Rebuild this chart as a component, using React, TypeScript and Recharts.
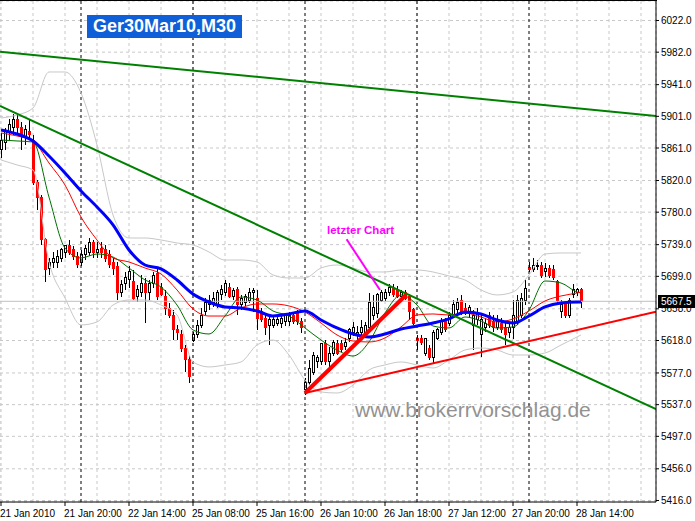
import React from "react";
import {
  ComposedChart,
  Bar,
  Line,
  XAxis,
  YAxis,
  CartesianGrid,
  ReferenceLine,
} from "recharts";

// Ger30Mar10, M30 – Kerzen vom 21 Jan 12:00 bis 28 Jan 14:30 (Index = Bar)
const open = [
  5858.5, 5868.5, 5880, 5886.5, 5896.5, 5886.5, 5875, 5881.5, 5871, 5817,
  5799, 5745, 5709.5, 5717, 5717, 5722, 5729.5, 5738.5, 5732.5, 5724.5,
  5717, 5726, 5729.5, 5742, 5729.5, 5734.5, 5732.5, 5726, 5717, 5712,
  5678, 5690.5, 5694.5, 5692, 5673, 5678, 5690.5, 5678, 5690.5, 5703,
  5685.5, 5673, 5659, 5650, 5631.5, 5625, 5608.5, 5593.5, 5618.5, 5625,
  5637.5, 5654, 5663, 5666.5, 5663, 5675.5, 5678, 5685.5, 5673, 5682,
  5663, 5666.5, 5669, 5678, 5671.5, 5654, 5646, 5637.5, 5637.5, 5640,
  5640, 5641.5, 5641.5, 5650, 5652.5, 5641.5, 5555.5, 5565.5, 5578, 5591,
  5591, 5614.5, 5591, 5602, 5614.5, 5614.5, 5610, 5621, 5627.5, 5625,
  5627.5, 5628.5, 5635, 5650, 5652.5, 5669, 5671.5, 5678, 5684, 5683,
  5674, 5678, 5673, 5656.5, 5621, 5621, 5602, 5608.5, 5597, 5620,
  5628.5, 5641.5, 5640, 5650, 5656.5, 5669, 5659, 5652.5, 5637.5, 5644,
  5625, 5634, 5649, 5641.5, 5635, 5640, 5635, 5627.5, 5634, 5641.5,
  5650, 5669, 5710.5, 5707, 5712, 5713, 5704.5, 5709.5, 5707, 5692,
  5654, 5663, 5650, 5675.5, 5679, 5682,
];
const high = [
  5880, 5886.5, 5897.5, 5904, 5902.5, 5894, 5890.5, 5897.5, 5877.5, 5821,
  5801.5, 5747.5, 5722, 5729.5, 5732.5, 5735, 5738.5, 5745, 5737, 5729.5,
  5732.5, 5738.5, 5747.5, 5745, 5742, 5742, 5738.5, 5732.5, 5722, 5717,
  5694.5, 5704.5, 5712, 5707, 5688, 5700.5, 5697, 5694.5, 5704.5, 5709.5,
  5690.5, 5682, 5665.5, 5656.5, 5637.5, 5631.5, 5612, 5599.5, 5628.5, 5644,
  5659, 5671.5, 5675.5, 5679, 5682, 5688, 5694.5, 5690.5, 5684, 5685.5,
  5675.5, 5676.5, 5684, 5684, 5682, 5659, 5650, 5649, 5650, 5649,
  5651.5, 5651.5, 5654, 5654, 5656.5, 5646, 5570.5, 5593.5, 5603.5, 5599.5,
  5615, 5618.5, 5610, 5618.5, 5618.5, 5618.5, 5621, 5634, 5641, 5636,
  5644, 5641, 5678, 5675.5, 5678, 5682, 5683, 5689, 5689, 5687,
  5682, 5682, 5676.5, 5659, 5625, 5625, 5621, 5612, 5631.5, 5634,
  5646, 5646, 5654, 5669, 5671.5, 5675.5, 5665.5, 5663, 5656.5, 5659,
  5650, 5646, 5654, 5650, 5650, 5646, 5641.5, 5641.5, 5669, 5675.5,
  5678, 5694.5, 5717, 5722, 5719.5, 5717, 5715.5, 5713, 5713, 5694.5,
  5669, 5666.5, 5671.5, 5689, 5684, 5684,
];
const low = [
  5848.5, 5858.5, 5871, 5877.5, 5880, 5858.5, 5865, 5871, 5814.5, 5783,
  5739, 5692, 5700.5, 5709.5, 5709.5, 5717, 5722, 5726, 5719.5, 5709.5,
  5712, 5719.5, 5724.5, 5722, 5722, 5722, 5717, 5709.5, 5700.5, 5669,
  5673, 5682, 5684, 5669, 5666.5, 5673, 5640, 5669, 5684, 5669,
  5674, 5650, 5646, 5618.5, 5618.5, 5603.5, 5578, 5564, 5616, 5621,
  5634, 5650, 5656.5, 5660, 5659, 5669, 5674, 5671.5, 5669, 5650,
  5656.5, 5661.5, 5665.5, 5654, 5631.5, 5641, 5625, 5612, 5634, 5636,
  5634, 5636, 5636, 5639, 5637.5, 5627.5, 5549, 5562, 5574.5, 5583,
  5587, 5587, 5578, 5598, 5600, 5603.5, 5606, 5616, 5623.5, 5618.5,
  5623.5, 5623.5, 5631.5, 5644, 5646, 5666.5, 5668, 5674, 5673, 5671.5,
  5670, 5669, 5644, 5637.5, 5606, 5612, 5598, 5593.5, 5589.5, 5618.5,
  5625, 5628.5, 5636, 5646, 5652.5, 5650, 5650, 5646, 5606, 5637.5,
  5597, 5628.5, 5634, 5628.5, 5631.5, 5627.5, 5612, 5621, 5620, 5637.5,
  5646, 5663, 5704.5, 5704.5, 5707, 5697, 5698, 5697, 5694.5, 5665,
  5646, 5646, 5646, 5671.5, 5674, 5659,
];
const close = [
  5871, 5881.5, 5891, 5896.5, 5886.5, 5875, 5884, 5877.5, 5818, 5798,
  5745, 5707, 5716, 5722, 5724.5, 5732.5, 5738.5, 5729.5, 5724.5, 5713.5,
  5726, 5734.5, 5742, 5729.5, 5732.5, 5728.5, 5722, 5714.5, 5709.5, 5679,
  5689, 5698, 5704.5, 5671.5, 5682, 5690.5, 5678, 5690.5, 5700.5, 5673,
  5675.5, 5659, 5650, 5631.5, 5627.5, 5608.5, 5593.5, 5572, 5625, 5637.5,
  5650, 5665.5, 5669, 5671.5, 5678, 5682, 5690.5, 5673, 5680.5, 5663,
  5671.5, 5673, 5678, 5680.5, 5646, 5644, 5634, 5644, 5644, 5645,
  5646, 5649, 5650, 5641.5, 5641.5, 5634, 5565.5, 5583, 5599.5, 5596,
  5614.5, 5591, 5602, 5616, 5602, 5606, 5616, 5631.5, 5635, 5628.5,
  5635, 5637.5, 5665.5, 5660, 5675.5, 5678, 5678, 5685.5, 5675.5, 5674,
  5679, 5671.5, 5654, 5640, 5618.5, 5616, 5620, 5597, 5627.5, 5631.5,
  5641.5, 5631.5, 5649, 5663, 5666.5, 5652.5, 5652.5, 5660, 5649, 5652.5,
  5644, 5640, 5637.5, 5635, 5641.5, 5631.5, 5625, 5635, 5649, 5669,
  5671.5, 5684, 5708, 5713, 5713, 5700.5, 5709.5, 5700.5, 5698, 5669,
  5663, 5650, 5669, 5682, 5682, 5667.5,
];

// Zeitachse
const timeLabels = [
  "21 Jan 2010",
  "21 Jan 20:00",
  "22 Jan 14:00",
  "25 Jan 08:00",
  "25 Jan 16:00",
  "26 Jan 10:00",
  "26 Jan 18:00",
  "27 Jan 12:00",
  "27 Jan 20:00",
  "28 Jan 14:00",
];
const timeLabelBars = [0, 16, 32, 48, 64, 80, 96, 112, 128, 144];
const gridBars = [
  0, 8, 16, 24, 32, 40, 48, 56, 64, 72, 80, 88, 96, 104, 112, 120, 128, 136,
  144, 152, 160,
];
const daySeparators = [20, 48, 76, 104, 132];

// Preisachse
const priceTicks = [
  6022, 5982, 5941, 5901, 5861, 5820, 5780, 5739, 5699, 5658, 5618, 5577,
  5537, 5497, 5456, 5416,
];
const bidPrice = 5667.5;

const indicatorBars = [
  0, 4, 8, 12, 16, 20, 24, 28, 32, 36, 40, 44, 48, 52, 56, 60, 64, 68, 72, 76,
  80, 84, 88, 92, 96, 100, 104, 108, 112, 116, 120, 124, 128, 132, 136, 140,
  144, 145,
];
const maBlue = [
  5883.8, 5878.7, 5869.9, 5850.9, 5829.5, 5806.8, 5786.6, 5764, 5732.3,
  5713.3, 5708.3, 5694.4, 5676.7, 5666.6, 5660.3, 5659, 5655.3, 5648.9, 5651.5,
  5655.3, 5643.9, 5633.8, 5626.2, 5622.4, 5626.2, 5632.5, 5636.3, 5640.1,
  5645.2, 5654, 5651.5, 5643.9, 5640.1, 5648.9, 5660.3, 5665.4, 5666.6, 5666.6,
];
const maRed = [
  5880, 5876.2, 5869.9, 5842.1, 5814.3, 5773.9, 5744.9, 5722.2, 5717.1,
  5709.5, 5702, 5681.8, 5657.8, 5648.9, 5648.9, 5659, 5664.1, 5664.1, 5661.6,
  5654, 5640.1, 5625, 5617.4, 5616.1, 5621.2, 5635.1, 5650.2, 5651.5, 5650.2,
  5652.7, 5647.7, 5641.4, 5645.2, 5655.3, 5667.9, 5674.2, 5678, 5679.2,
];
const maGreen = [
  5871.1, 5869.9, 5868.6, 5799, 5734.8, 5722.2, 5727.2, 5723.4, 5709.5,
  5694.4, 5685.6, 5662.8, 5631.3, 5626.2, 5648.9, 5672.9, 5669.1, 5655.2,
  5648.9, 5633.8, 5618.6, 5606, 5598.4, 5616.1, 5652.7, 5675.5, 5662.8,
  5636.3, 5633.8, 5647.7, 5642.6, 5633.8, 5635.1, 5656.5, 5693.1, 5690.6,
  5679.2, 5678,
];
const bbUpper = [
  5898.9, 5902.7, 5911.5, 5957, 5957, 5930.5, 5864.8, 5776.5, 5747.4, 5747.4,
  5744.9, 5741.1, 5738.6, 5729.7, 5719.6, 5719.6, 5717.1, 5700.7, 5696.9,
  5696.9, 5709.5, 5713.3, 5709.5, 5704.5, 5704.5, 5707, 5707, 5704.5, 5699.4,
  5694.4, 5681.8, 5675.5, 5679.2, 5700.7, 5727.2, 5728.5, 5728.5, 5728.5,
];
const bbLower = [
  5845.9, 5839.6, 5833.3, 5717.1, 5671.7, 5637.6, 5641.4, 5662.8, 5669.1,
  5669.1, 5662.8, 5650.2, 5590.9, 5584.6, 5587.1, 5590.9, 5612.3, 5618.6,
  5599.7, 5568.1, 5553, 5551.7, 5561.8, 5580.8, 5587.1, 5590.9, 5587.1, 5583.3,
  5593.4, 5606, 5608.5, 5606, 5599.7, 5599.7, 5602.2, 5612.3, 5622.4, 5625,
];

// Trendlinien (Bar, Preis)
const trendGreenTop = [
  { x: -0.25, y: 5982.6 },
  { x: 163.75, y: 5901.4 },
];
const trendGreenMid = [
  { x: -0.25, y: 5914.1 },
  { x: 163.75, y: 5531.5 },
];
const trendRedLong = [
  { x: 76, y: 5551.7 },
  { x: 163.75, y: 5654.4 },
];
const trendRedShort = [
  { x: 76, y: 5551.7 },
  { x: 101.25, y: 5675.4 },
];
const pointerLine = [
  { x: 86.4, y: 5745.8 },
  { x: 94.75, y: 5681.8 },
];

const candles = open.map((o, i) => ({
  x: i,
  open: o,
  high: high[i],
  low: low[i],
  close: close[i],
}));

const indicators = indicatorBars.map((b, i) => ({
  x: b,
  blue: maBlue[i],
  red: maRed[i],
  green: maGreen[i],
  up: bbUpper[i],
  lo: bbLower[i],
}));

const FONT = "'Liberation Sans', Arial, sans-serif";

const Candle = (props: any) => {
  const { x, y, width, height, payload } = props;
  if (!payload || x == null) return null;
  const { open: o, close: c, high: h, low: l } = payload;
  const top = Math.min(y, y + height);
  const span = Math.abs(height);
  const range = h - l || 1;
  const yOf = (v: number) => top + ((h - v) / range) * span;
  const cx = Math.round(x + width / 2);
  const yo = yOf(o);
  const yc = yOf(c);
  const bTop = Math.min(yo, yc);
  const bH = Math.max(1, Math.abs(yo - yc));
  const up = c >= o;
  return (
    <g shapeRendering="crispEdges">
      <line x1={cx + 0.5} x2={cx + 0.5} y1={top} y2={top + span} stroke="#000" />
      {up ? (
        <rect x={cx - 0.5} y={bTop} width={2} height={bH} fill="#fff" stroke="#000" />
      ) : (
        <rect x={cx - 1} y={bTop - 0.5} width={3} height={bH + 1} fill="#ff0000" />
      )}
    </g>
  );
};

const TimeTick = (props: any) => {
  const { x, y, payload } = props;
  const i = timeLabelBars.indexOf(payload.value);
  if (i < 0) return null;
  return (
    <g>
      <line x1={x} x2={x} y1={y} y2={y + 4} stroke="#000" />
      <text x={x - 1} y={y + 14.5} fontSize={10} fontFamily={FONT} fill="#000">
        {timeLabels[i]}
      </text>
    </g>
  );
};

export default function App() {
  return (
    <div
      style={{
        position: "absolute",
        left: 0,
        top: 0,
        width: 695,
        height: 521,
        background: "#fff",
        overflow: "hidden",
      }}
    >
      <ComposedChart
        width={695}
        height={521}
        data={candles}
        margin={{ top: 1, right: 0, bottom: 0, left: 0 }}
      >
        <CartesianGrid stroke="#c8c8c8" strokeDasharray="3 3" />
        <XAxis
          dataKey="x"
          type="number"
          domain={[-0.25, 163.75]}
          allowDataOverflow
          ticks={gridBars}
          interval={0}
          height={19}
          tickSize={0}
          tickMargin={0}
          tickLine={false}
          axisLine={{ stroke: "#000" }}
          tick={<TimeTick />}
        />
        <YAxis
          orientation="right"
          type="number"
          domain={[5414.1, 6046.6]}
          allowDataOverflow
          ticks={priceTicks}
          interval={0}
          width={39}
          tickSize={3}
          tickMargin={2}
          axisLine={{ stroke: "#000" }}
          tickLine={{ stroke: "#000" }}
          tick={{ fontSize: 10, fill: "#000", fontFamily: FONT }}
          tickFormatter={(v: number) => v.toFixed(1)}
        />
        {daySeparators.map((b) => (
          <ReferenceLine key={b} x={b} stroke="#000" strokeDasharray="3 3" />
        ))}
        <ReferenceLine y={bidPrice} stroke="#c0c0c0" />

        <Line data={indicators} dataKey="up" type="monotone" stroke="#c8c8c8" strokeWidth={1} dot={false} activeDot={false} isAnimationActive={false} />
        <Line data={indicators} dataKey="lo" type="monotone" stroke="#c8c8c8" strokeWidth={1} dot={false} activeDot={false} isAnimationActive={false} />

        <Bar
          dataKey={(d: any) => [d.low, d.high]}
          barSize={3}
          shape={<Candle />}
          isAnimationActive={false}
        />

        <Line data={indicators} dataKey="green" type="monotone" stroke="#007000" strokeWidth={1} dot={false} activeDot={false} isAnimationActive={false} />
        <Line data={indicators} dataKey="red" type="monotone" stroke="#ff0000" strokeWidth={1} dot={false} activeDot={false} isAnimationActive={false} />
        <Line data={indicators} dataKey="blue" type="monotone" stroke="#0000ff" strokeWidth={3} dot={false} activeDot={false} isAnimationActive={false} />

        <Line data={trendGreenTop} dataKey="y" type="linear" stroke="#008000" strokeWidth={2} dot={false} activeDot={false} isAnimationActive={false} />
        <Line data={trendGreenMid} dataKey="y" type="linear" stroke="#008000" strokeWidth={2} dot={false} activeDot={false} isAnimationActive={false} />
        <Line data={trendRedLong} dataKey="y" type="linear" stroke="#ff0000" strokeWidth={2} dot={false} activeDot={false} isAnimationActive={false} />
        <Line data={trendRedShort} dataKey="y" type="linear" stroke="#ff0000" strokeWidth={4} dot={false} activeDot={false} isAnimationActive={false} />
        <Line data={pointerLine} dataKey="y" type="linear" stroke="#ff00ff" strokeWidth={2} dot={false} activeDot={false} isAnimationActive={false} />
      </ComposedChart>

      <div style={{ position: "absolute", left: 0, top: 0, width: 657, height: 1, background: "#000" }} />

      <div
        style={{
          position: "absolute",
          left: 87,
          top: 15,
          width: 155,
          height: 23,
          background: "#0f5fd8",
          color: "#fff",
          fontFamily: FONT,
          fontWeight: "bold",
          fontSize: 18,
          lineHeight: "23px",
          paddingLeft: 6,
          boxSizing: "border-box",
          whiteSpace: "nowrap",
        }}
      >
        Ger30Mar10,M30
      </div>

      <div
        style={{
          position: "absolute",
          left: 327,
          top: 224,
          color: "#ff00ff",
          fontFamily: FONT,
          fontWeight: "bold",
          fontSize: 11.5,
          whiteSpace: "nowrap",
        }}
      >
        letzter Chart
      </div>

      <div
        style={{
          position: "absolute",
          left: 355,
          top: 398,
          color: "#929292",
          fontFamily: FONT,
          fontSize: 21,
          whiteSpace: "nowrap",
        }}
      >
        www.brokerrvorschlag.de
      </div>

      <div
        style={{
          position: "absolute",
          left: 658,
          top: 295,
          width: 37,
          height: 13,
          background: "#000",
          color: "#fff",
          fontFamily: FONT,
          fontSize: 10,
          lineHeight: "13px",
          paddingLeft: 3,
          boxSizing: "border-box",
        }}
      >
        {bidPrice.toFixed(1)}
      </div>
    </div>
  );
}
